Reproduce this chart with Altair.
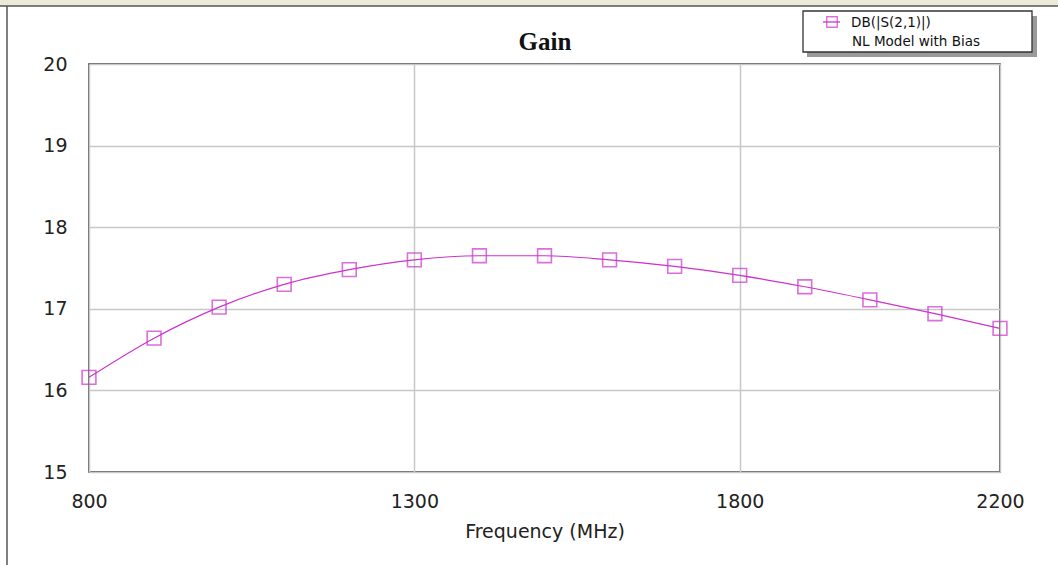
import altair as alt
import pandas as pd

freq = [800, 900, 1000, 1100, 1200, 1300, 1400, 1500, 1600, 1700, 1800, 1900, 2000, 2100, 2200]
gain = [16.16, 16.64, 17.02, 17.30, 17.48, 17.60, 17.65, 17.65, 17.60, 17.52, 17.41, 17.27, 17.11, 16.94, 16.76]
x_ticks = [800, 1300, 1800, 2200]
y_ticks = [15, 16, 17, 18, 19, 20]
series_name = "DB(|S(2,1)|)"
series_note = "NL Model with Bias"
title_text = "Gain"
x_title = "Frequency (MHz)"

MAG = "#cc33cc"
W, H = 911, 408
FONT = "DejaVu Sans"

df = pd.DataFrame({"f": freq, "g": gain})
one = pd.DataFrame({"k": [0]})

x_enc = alt.X("f:Q", scale=alt.Scale(domain=[800, 2200], nice=False, zero=False),
              axis=alt.Axis(values=x_ticks, format="d", title=x_title, grid=True, gridColor="#c8c8c8",
                            gridWidth=1.5, ticks=False, domain=False, labelFontSize=19,
                            labelFont=FONT, labelColor="#222", labelPadding=20,
                            titleFontSize=19, titleFont=FONT, titleFontWeight="normal",
                            titleColor="#222", titlePadding=11, labelFlush=False))
y_enc = alt.Y("g:Q", scale=alt.Scale(domain=[15, 20], nice=False, zero=False),
              axis=alt.Axis(values=y_ticks, format="d", title=None, grid=True, gridColor="#c8c8c8",
                            gridWidth=1.5, ticks=False, domain=False, labelFontSize=19,
                            labelFont=FONT, labelColor="#222", labelPadding=22,
                            labelFlush=False))

line = alt.Chart(df).mark_line(color=MAG, strokeWidth=1.2, interpolate="monotone").encode(x=x_enc, y=y_enc)
pts = alt.Chart(df).mark_point(shape="square", size=190, filled=False, color=MAG,
                               strokeWidth=1.6).encode(x="f:Q", y="g:Q")

# frame
strip = alt.Chart(one).mark_rect(color="#ece9d8").encode(
    x=alt.value(-89), x2=alt.value(969), y=alt.value(-64), y2=alt.value(-58))
top_line = alt.Chart(one).mark_rule(color="#555", strokeWidth=1.5).encode(
    x=alt.value(-89), x2=alt.value(969), y=alt.value(-58))
left_line = alt.Chart(one).mark_rule(color="#555", strokeWidth=1.5).encode(
    x=alt.value(-82), y=alt.value(-58), y2=alt.value(501))

# title
title = alt.Chart(one).mark_text(align="center", baseline="alphabetic", fontSize=25,
                                 font="Liberation Serif", fontWeight="bold", color="#111").encode(
    x=alt.value(456), y=alt.value(-14), text=alt.value(title_text))

# legend box
shadow = alt.Chart(one).mark_rect(color="#9a9a9a").encode(
    x=alt.value(718), x2=alt.value(948), y=alt.value(-48), y2=alt.value(-7))
box = alt.Chart(one).mark_rect(fill="white", stroke="#333", strokeWidth=1.3).encode(
    x=alt.value(714), x2=alt.value(943), y=alt.value(-53), y2=alt.value(-12))
leg_line = alt.Chart(one).mark_rule(color=MAG, strokeWidth=1.3).encode(
    x=alt.value(734), x2=alt.value(751), y=alt.value(-42))
leg_sq = alt.Chart(one).mark_point(shape="square", size=110, filled=False, color=MAG,
                                   strokeWidth=1.4).encode(x=alt.value(743), y=alt.value(-42))
leg_t1 = alt.Chart(one).mark_text(align="left", baseline="middle", fontSize=13.5,
                                  font=FONT, color="#111").encode(
    x=alt.value(762), y=alt.value(-41), text=alt.value(series_name))
leg_t2 = alt.Chart(one).mark_text(align="left", baseline="middle", fontSize=13.5,
                                  font=FONT, color="#111").encode(
    x=alt.value(763), y=alt.value(-22), text=alt.value(series_note))

chart = alt.layer(line, pts, strip, top_line, left_line, title, shadow, box, leg_line, leg_sq,
                  leg_t1, leg_t2).properties(
    width=W, height=H,
    autosize=alt.AutoSizeParams(type="none"),
    padding={"left": 89, "top": 64, "right": 58, "bottom": 93},
    background="white",
).configure_view(stroke="#333", strokeWidth=1.5)

chart.save("out.html", embed_options={"renderer": "svg", "actions": False})
